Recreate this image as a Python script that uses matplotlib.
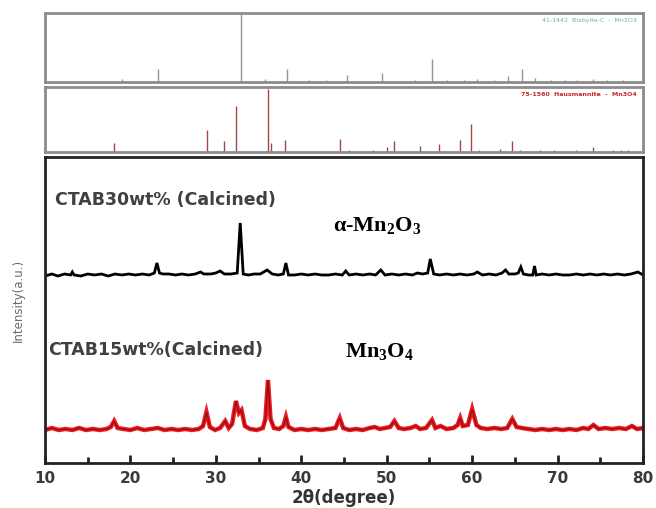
import matplotlib.pyplot as plt

# ------------------------------------------------------------------
# data
# ------------------------------------------------------------------
# reference pattern 1 (Bixbyite, Mn2O3): 2theta, relative intensity
ref1_pos = [19.0, 23.2, 32.95, 35.8, 38.3, 40.9, 42.9, 45.3, 49.4, 53.3, 55.3, 57.1,
            59.0, 60.6, 62.5, 64.2, 65.8, 67.4, 69.2, 70.9, 72.3, 74.2, 75.8, 77.7]
ref1_int = [0.04, 0.19, 1.0, 0.04, 0.19, 0.03, 0.03, 0.10, 0.13, 0.03, 0.33, 0.03,
            0.03, 0.04, 0.03, 0.08, 0.19, 0.06, 0.03, 0.03, 0.03, 0.04, 0.03, 0.03]

# reference pattern 2 (Hausmannite, Mn3O4)
ref2_pos = [18.1, 29.0, 31.0, 32.4, 36.1, 36.5, 38.1, 44.5, 45.6, 48.4, 50.0, 50.8, 53.9,
            56.1, 58.6, 59.9, 60.8, 63.3, 64.7, 65.6, 67.9, 69.6, 72.1, 74.1, 76.5, 77.4, 78.2]
ref2_int = [0.14, 0.34, 0.17, 0.71, 0.97, 0.14, 0.19, 0.20, 0.03, 0.03, 0.08, 0.17, 0.09,
            0.12, 0.19, 0.43, 0.03, 0.04, 0.17, 0.03, 0.03, 0.03, 0.03, 0.08, 0.03, 0.03, 0.03]

# CTAB30wt% (calcined) trace
ctab30_x = [10.0, 10.8, 11.5, 12.3, 13.0, 13.2, 13.4, 14.2, 15.0, 15.8, 16.6, 17.4, 18.2, 19.0,
            19.8, 20.6, 21.4, 22.2, 22.8, 23.1, 23.4, 23.8, 24.5, 25.3, 26.0, 26.8, 27.6, 28.2,
            28.6, 29.4, 30.0, 30.5, 31.0, 31.8, 32.5, 32.85, 33.2, 33.8, 34.5, 35.2, 36.0, 36.6,
            37.3, 37.9, 38.2, 38.5, 39.2, 40.0, 40.8, 41.6, 42.4, 43.2, 44.0, 44.8, 45.2, 45.6,
            46.4, 47.2, 48.0, 48.7, 49.3, 49.8, 50.6, 51.4, 52.2, 53.0, 53.6, 54.2, 54.8, 55.1,
            55.5, 56.2, 57.0, 57.8, 58.6, 59.4, 60.2, 60.6, 61.2, 62.0, 62.8, 63.5, 63.9, 64.3,
            65.0, 65.4, 65.7, 66.0, 66.6, 67.1, 67.3, 67.5, 68.2, 69.0, 69.8, 70.6, 71.4, 72.2,
            73.0, 73.8, 74.6, 75.4, 76.2, 77.0, 77.8, 78.6, 79.4, 80.0]
ctab30_y = [187, 189, 187, 189, 188, 191, 188, 187, 189, 188, 189, 187, 189, 188,
            189, 188, 189, 188, 190, 200, 190, 189, 189, 188, 189, 188, 189, 191,
            189, 189, 190, 192, 189, 189, 190, 240, 189, 188, 189, 189, 193, 189,
            188, 189, 200, 188, 188, 189, 188, 189, 188, 188, 189, 188, 192, 188,
            189, 188, 189, 188, 193, 188, 189, 188, 189, 188, 190, 189, 190, 204,
            189, 188, 189, 188, 189, 188, 189, 191, 188, 189, 188, 190, 193, 189,
            189, 190, 196, 189, 188, 188, 197, 188, 189, 188, 189, 188, 188, 189,
            188, 189, 188, 189, 188, 189, 188, 189, 191, 188]

# CTAB15wt% (calcined) trace
ctab15_x = [10.0, 10.8, 11.6, 12.4, 13.2, 14.0, 14.8, 15.6, 16.4, 17.2, 17.7, 18.1, 18.5, 19.2,
            20.0, 20.8, 21.6, 22.4, 23.2, 24.0, 24.8, 25.6, 26.4, 27.2, 28.0, 28.5, 28.9, 29.3,
            29.9, 30.5, 31.1, 31.5, 31.9, 32.35, 32.7, 33.0, 33.4, 34.0, 34.8, 35.5, 35.8, 36.1,
            36.4, 36.8, 37.4, 37.9, 38.2, 38.5, 39.2, 40.0, 40.8, 41.6, 42.4, 43.2, 44.0, 44.5,
            44.9, 45.6, 46.4, 47.2, 48.0, 48.6, 49.2, 49.8, 50.4, 50.9, 51.4, 52.0, 52.8, 53.4,
            53.9, 54.6, 55.3, 55.7, 56.3, 57.0, 57.8, 58.3, 58.6, 58.9, 59.5, 60.0, 60.5, 61.0,
            61.8, 62.6, 63.4, 64.1, 64.7, 65.2, 65.8, 66.6, 67.4, 68.2, 69.0, 69.8, 70.6, 71.4,
            72.2, 73.0, 73.6, 74.2, 74.8, 75.6, 76.4, 77.2, 78.0, 78.7, 79.3, 80.0]
ctab15_y = [33, 35, 33, 34, 33, 35, 33, 34, 33, 34, 36, 42, 35, 34,
            33, 35, 33, 34, 35, 33, 34, 33, 34, 33, 34, 37, 51, 36,
            33, 35, 42, 35, 39, 62, 50, 53, 37, 34, 33, 35, 44, 83,
            44, 35, 34, 37, 46, 36, 33, 34, 33, 34, 33, 34, 35, 45,
            35, 33, 34, 33, 35, 36, 34, 35, 36, 42, 35, 34, 35, 37,
            34, 35, 43, 35, 37, 34, 35, 38, 45, 37, 38, 54, 38, 35,
            34, 35, 34, 35, 44, 36, 35, 34, 33, 34, 33, 34, 33, 34,
            33, 35, 34, 38, 34, 35, 34, 35, 34, 37, 34, 35]

x_ticks = [10, 20, 30, 40, 50, 60, 70, 80]

# ------------------------------------------------------------------
plt.rcParams['mathtext.fontset'] = 'custom'
plt.rcParams['mathtext.rm'] = 'Liberation Serif:bold'
plt.rcParams['mathtext.bf'] = 'Liberation Serif:bold'
plt.rcParams['mathtext.it'] = 'Liberation Serif:bold'

fig = plt.figure(figsize=(6.56, 5.08), dpi=100)

left, width = 45 / 656, 598 / 656
ax_top = fig.add_axes([left, 1 - 82 / 508, width, 69 / 508])
ax_mid = fig.add_axes([left, 1 - 152 / 508, width, 65 / 508])
ax = fig.add_axes([left, 1 - 463 / 508, width, 306 / 508])

# reference stick patterns
for a, pos, inten, col in [(ax_top, ref1_pos, ref1_int, '#8a9896'),
                           (ax_mid, ref2_pos, ref2_int, '#a04848')]:
    a.vlines(pos, 0, inten, color=col, lw=1.0)
    a.set_xlim(10, 80)
    a.set_ylim(0, 1.0)
    a.set_xticks([])
    a.set_yticks([])
    for s in a.spines.values():
        s.set_color('#8c8c8c')
        s.set_linewidth(2)

ax_top.text(0.99, 0.93, '41-1442  Bixbyite-C  -  Mn2O3', transform=ax_top.transAxes,
            ha='right', va='top', fontsize=4.5, color='#5cb8a6')
ax_mid.text(0.99, 0.93, '75-1560  Hausmannite  -  Mn3O4', transform=ax_mid.transAxes,
            ha='right', va='top', fontsize=4.5, color='#c02828', fontweight='bold')

# measured patterns
ax.plot(ctab30_x, ctab30_y, color='black', lw=2.0, solid_joinstyle='miter')
ax.plot(ctab15_x, ctab15_y, color='#ee1c24', lw=3.2, solid_joinstyle='miter')
ax.plot(ctab15_x, ctab15_y, color='#9a0c0c', lw=1.0, solid_joinstyle='miter')

ax.set_xlim(10, 80)
ax.set_ylim(0, 306)
ax.set_xticks(x_ticks)
ax.set_xticks(range(15, 80, 10), minor=True)
ax.set_yticks([])
ax.tick_params(axis='x', which='major', direction='in', length=6, width=2, color='#222',
               labelsize=11, labelcolor='#3a3a3a', pad=6)
ax.tick_params(axis='x', which='minor', direction='in', length=4, width=2, color='#222')
for lab in ax.get_xticklabels():
    lab.set_fontweight('bold')
for s in ax.spines.values():
    s.set_color('#222222')
    s.set_linewidth(2)

ax.set_xlabel('2θ(degree)', fontsize=12, color='#333', fontweight='bold', labelpad=2)
fig.text(18 / 656, 1 - 300 / 508, 'Intensity(a.u.)', rotation=90, ha='center', va='center',
         fontsize=8.5, color='#6a6a6a')

ax.text(11.2, 263, 'CTAB30wt% (Calcined)', fontsize=12.5, color='#404040',
        fontweight='bold', va='center')
ax.text(10.4, 113, 'CTAB15wt%(Calcined)', fontsize=12.5, color='#404040',
        fontweight='bold', va='center')
ax.text(43.7, 238, r'$\mathbf{\alpha}$-$\mathbf{Mn_2O_3}$', fontsize=16,
        family='Liberation Serif', fontweight='bold', va='center')
ax.text(45.1, 111, r'$\mathbf{Mn_3O_4}$', fontsize=16, va='center')

plt.savefig('out.png', dpi=100)
